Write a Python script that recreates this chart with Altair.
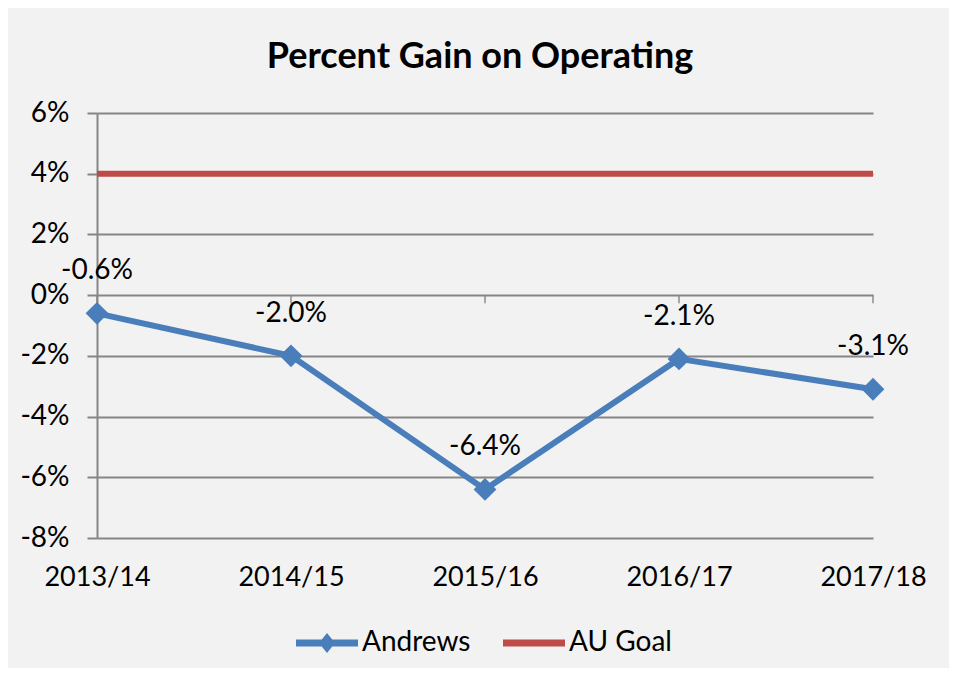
import altair as alt
import pandas as pd

years = ["2013/14", "2014/15", "2015/16", "2016/17", "2017/18"]
andrews = [-0.006, -0.020, -0.064, -0.021, -0.031]
au_goal = [0.04, 0.04, 0.04, 0.04, 0.04]
y_ticks = [-0.08, -0.06, -0.04, -0.02, 0.0, 0.02, 0.04, 0.06]
series_names = ["Andrews", "AU Goal"]

BLUE = "#4a7ebb"
RED = "#be4b48"
GRID = "#868686"
FONT = "Lato"

andrews_df = pd.DataFrame({"year": years, "value": andrews, "series": "Andrews"})
goal_df = pd.DataFrame({"year": years, "value": au_goal, "series": "AU Goal"})
both_df = pd.concat([andrews_df, goal_df], ignore_index=True)
zero_df = pd.DataFrame({"year": years})

x_enc = alt.X("year:N", sort=years, scale=alt.Scale(type="point", padding=0),
              axis=alt.Axis(title=None, labelAngle=0, domain=False, ticks=False, grid=False,
                            labelFontSize=27, labelFont=FONT, labelColor="#000000",
                            labelPadding=26))
y_enc = alt.Y("value:Q", scale=alt.Scale(domain=[-0.08, 0.06], nice=False, zero=False),
              axis=alt.Axis(title=None, values=y_ticks, format=".0%", grid=True,
                            labelExpr="replace(datum.label, '\u2212', '-')",
                            gridColor=GRID, gridWidth=2, domain=True, domainColor=GRID,
                            domainWidth=2, tickColor=GRID, tickWidth=2, tickSize=10,
                            labelFontSize=28, labelFont=FONT, labelColor="#000000",
                            labelPadding=18))

goal_line = alt.Chart(goal_df).mark_line(color=RED, strokeWidth=6).encode(x=x_enc, y=y_enc)

zero_ticks = alt.Chart(zero_df).mark_tick(color=GRID, thickness=2, size=8, yOffset=4,
                                          orient="vertical").encode(
    x=alt.X("year:N", sort=years), y=alt.datum(0.0))

andrews_line = alt.Chart(andrews_df).mark_line(color=BLUE, strokeWidth=6).encode(x=x_enc, y=y_enc)
andrews_pts = alt.Chart(andrews_df).mark_point(shape="diamond", filled=True, size=520,
                                               color=BLUE, opacity=1).encode(x=x_enc, y=y_enc)
labels = alt.Chart(andrews_df).transform_calculate(
    lbl="replace(format(datum.value, '.1%'), '\u2212', '-')"
).mark_text(dy=-42, fontSize=28, font=FONT, color="#000000").encode(
    x=x_enc, y=y_enc, text="lbl:N")

andrews_sym = "M-1,-0.11L1,-0.11L1,0.11L-1,0.11Z M0,-0.32L0.26,0L0,0.32L-0.26,0Z"
goal_sym = "M-1,-0.11L1,-0.11L1,0.11L-1,0.11Z"

legend_layer = alt.Chart(both_df).mark_point(filled=True, opacity=0, strokeWidth=0).encode(
    x=x_enc, y=y_enc,
    color=alt.Color("series:N", scale=alt.Scale(domain=series_names, range=[BLUE, RED]),
                    legend=alt.Legend(title=None, orient="none", direction="horizontal",
                                      legendX=199, legendY=499, symbolSize=3844,
                                      symbolOpacity=1, symbolStrokeWidth=0,
                                      labelFontSize=28, labelFont=FONT, labelColor="#000000",
                                      labelOffset=4, columnPadding=32, symbolLimit=0,
                                      labelLimit=300)),
    shape=alt.Shape("series:N", scale=alt.Scale(domain=series_names, range=[andrews_sym, goal_sym]),
                    legend=None),
)

chart = alt.layer(goal_line, zero_ticks, andrews_line, andrews_pts, labels, legend_layer).properties(
    width=776, height=425,
    autosize=alt.AutoSizeParams(type="none"),
    padding={"left": 89, "top": 105, "right": 76, "bottom": 130},
    background="#f2f2f2",
    title=alt.Title("Percent Gain on Operating", fontSize=36, font=FONT, fontWeight="bold",
                    anchor="middle", offset=23, color="#000000", dx=-5),
).configure_view(stroke="transparent")

chart.save("out.html", embed_options={"renderer": "svg", "actions": False})
